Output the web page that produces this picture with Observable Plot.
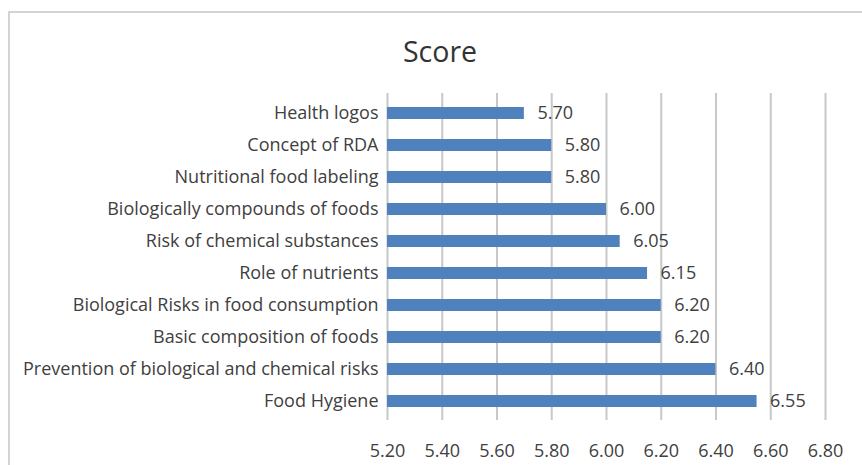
<!DOCTYPE html>
<html>
<head>
<meta charset="utf-8">
<script src="https://cdn.jsdelivr.net/npm/d3@7"></script>
<script src="https://cdn.jsdelivr.net/npm/@observablehq/plot@0.6"></script>
<style>
  html, body { margin: 0; padding: 0; background: #fff; width: 862px; height: 465px; overflow: hidden; }
  #frame { position: absolute; left: 8px; top: 11px; width: 900px; height: 500px; border: 2px solid #d4d4d4; box-sizing: border-box; }
  #title { position: absolute; left: 0; width: 880px; top: 32px; text-align: center; font-family: "Open Sans", sans-serif; font-size: 28.5px; color: #333; line-height: normal; }
  #chart { position: absolute; left: 0; top: 0; }
</style>
</head>
<body>
<div id="frame"></div>
<div id="title">Score</div>
<div id="chart"></div>
<script>
const categories = [
  "Health logos",
  "Concept of RDA",
  "Nutritional food labeling",
  "Biologically compounds of foods",
  "Risk of chemical substances",
  "Role of nutrients",
  "Biological Risks in food consumption",
  "Basic composition of foods",
  "Prevention of biological and chemical risks",
  "Food Hygiene"
];
const scores = [5.70, 5.80, 5.80, 6.00, 6.05, 6.15, 6.20, 6.20, 6.40, 6.55];
const xTicks = [5.2, 5.4, 5.6, 5.8, 6.0, 6.2, 6.4, 6.6, 6.8];

const data = categories.map((c, i) => ({category: c, score: scores[i]}));

const chart = Plot.plot({
  width: 862,
  height: 465,
  marginLeft: 387,
  marginRight: 37,
  marginTop: 93,
  marginBottom: 45,
  style: {fontFamily: "'Open Sans', sans-serif", fontSize: "18px", color: "#404040", background: "transparent"},
  x: {domain: [5.2, 6.8], ticks: xTicks, tickFormat: d => d.toFixed(2), tickSize: 0, tickPadding: 24, label: null},
  y: {domain: categories, paddingInner: 0.64, paddingOuter: 0.34, tickSize: 0, tickPadding: 9, label: null},
  marks: [
    Plot.ruleX(xTicks, {stroke: "#c8c8c8", strokeWidth: 2}),
    Plot.barX(data, {x1: 5.2, x2: "score", y: "category", fill: "#4f81bd"}),
    Plot.text(data, {x: "score", y: "category", text: d => d.score.toFixed(2), textAnchor: "start", dx: 13, fill: "#404040", fontSize: 18})
  ]
});
document.getElementById("chart").appendChild(chart);
</script>
</body>
</html>
